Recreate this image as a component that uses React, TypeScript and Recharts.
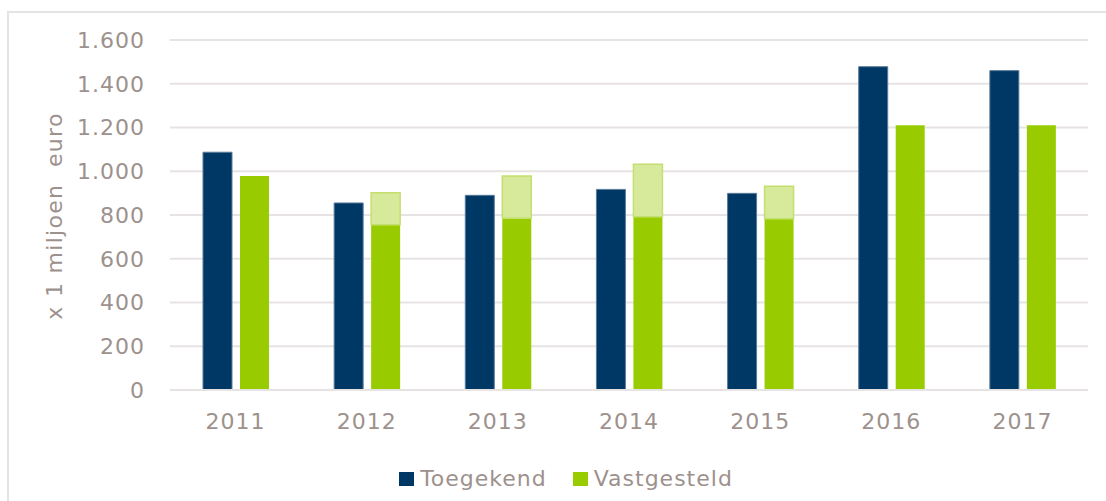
import React from 'react'
import { Bar, BarChart, CartesianGrid, Legend, XAxis, YAxis } from 'recharts'

const years = ['2011', '2012', '2013', '2014', '2015', '2016', '2017']
const toegekend = [1087, 855, 890, 917, 899, 1478, 1460]
const vastgesteld = [978, 756, 785, 792, 783, 1210, 1210]
// lichtgroen deel bovenop vastgesteld (2012-2015)
const vastgesteldExtra = [0, 146, 193, 240, 148, 0, 0]
const yTicks = [0, 200, 400, 600, 800, 1000, 1200, 1400, 1600]

const NAVY = '#003865'
const GREEN = '#99cc00'
const LIGHT_GREEN = '#d7e99a'
const TEXT = '#9d918d'
const GRID = '#e8e3e3'
const FONT = '"DejaVu Sans", Verdana, sans-serif'

const data = years.map((year, i) => ({
    year,
    toegekend: toegekend[i],
    vastgesteld: vastgesteld[i],
    extra: vastgesteldExtra[i],
}))

const formatNL = (v: number) => v.toLocaleString('de-DE')

const tickStyle = { fill: TEXT, fontSize: 22, fontFamily: FONT, style: { letterSpacing: 1 } }

const LegendContent = () => (
    <div
        style={{
            display: 'flex',
            alignItems: 'center',
            justifyContent: 'center',
            paddingLeft: 26,
            paddingTop: 4,
            fontFamily: FONT,
            fontSize: 22,
            letterSpacing: 1,
            color: TEXT,
        }}
    >
        <span style={{ width: 15, height: 14, background: NAVY, marginRight: 6 }} />
        <span style={{ marginRight: 26 }}>Toegekend</span>
        <span style={{ width: 15, height: 14, background: GREEN, marginRight: 6 }} />
        <span>Vastgesteld</span>
    </div>
)

const AxisLabel = ({ viewBox }: any) => {
    const x = (viewBox?.x ?? 0) + 62
    const y = 216
    return (
        <text
            x={x}
            y={y}
            transform={`rotate(-90, ${x}, ${y})`}
            textAnchor={'middle'}
            fill={TEXT}
            fontSize={22}
            fontFamily={FONT}
            style={{ whiteSpace: 'pre', letterSpacing: 1.3 }}
        >
            {'x 1 miljoen  euro'}
        </text>
    )
}

export default function App() {
    return (
        <div style={{ position: 'absolute', left: 0, top: 0, width: 1106, height: 501, background: '#fff', overflow: 'hidden' }}>
            <div
                style={{
                    position: 'absolute',
                    left: 7,
                    top: 11,
                    width: 1120,
                    height: 520,
                    borderLeft: '2px solid #e4e4e4',
                    borderTop: '2px solid #e4e4e4',
                }}
            />
            <div style={{ position: 'absolute', left: 0, top: 0 }}>
                <BarChart
                    width={1106}
                    height={501}
                    data={data}
                    margin={{ top: 40, right: 18, bottom: 9, left: 0 }}
                    barSize={29}
                    barGap={8}
                >
                    <CartesianGrid vertical={false} stroke={GRID} strokeWidth={2} />
                    <XAxis
                        dataKey={'year'}
                        height={72}
                        tickLine={false}
                        tickSize={0}
                        tickMargin={23}
                        axisLine={{ stroke: GRID, strokeWidth: 2 }}
                        tick={tickStyle}
                    />
                    <YAxis
                        width={170}
                        domain={[0, 1600]}
                        ticks={yTicks}
                        interval={0}
                        tickLine={false}
                        tickSize={0}
                        tickMargin={25}
                        axisLine={false}
                        tickFormatter={formatNL}
                        tick={tickStyle}
                        label={<AxisLabel />}
                    />
                    <Legend verticalAlign={'bottom'} height={30} content={<LegendContent />} wrapperStyle={{ left: 0, width: 1106 }} />
                    <Bar
                        dataKey={'toegekend'}
                        name={'Toegekend'}
                        stackId={'t'}
                        fill={NAVY}
                        stroke={'#5a7b9a'}
                        strokeWidth={1}
                        isAnimationActive={false}
                    />
                    <Bar dataKey={'vastgesteld'} name={'Vastgesteld'} stackId={'v'} fill={GREEN} isAnimationActive={false} />
                    <Bar
                        dataKey={'extra'}
                        stackId={'v'}
                        fill={LIGHT_GREEN}
                        stroke={'#c4df70'}
                        strokeWidth={1.5}
                        legendType={'none'}
                        isAnimationActive={false}
                    />
                </BarChart>
            </div>
        </div>
    )
}
